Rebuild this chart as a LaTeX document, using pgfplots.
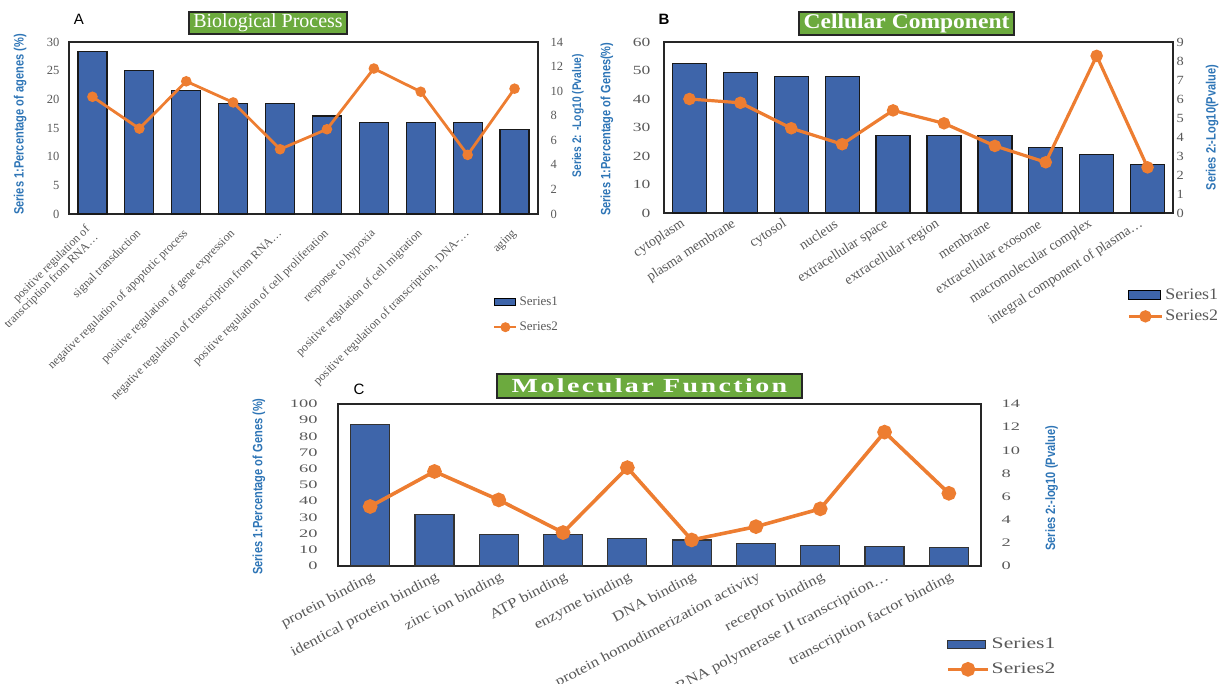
\documentclass[border=0pt]{standalone}
\usepackage{pgfplots}
\pgfplotsset{compat=1.18}
\usepackage{fontspec}
\setmainfont{Liberation Serif}
\setsansfont{Liberation Sans}
\newfontfamily\narrowfont{Liberation Sans}[FakeStretch=0.82]
\newfontfamily\bnum{Liberation Serif}[FakeStretch=1.4]
\newfontfamily\brnum{Liberation Serif}[FakeStretch=1.15]
\newfontfamily\bwide{Liberation Serif}[FakeStretch=1.12]
\newfontfamily\cnum{Liberation Serif}[FakeStretch=1.6]
\newfontfamily\cwide{Liberation Serif}[FakeStretch=1.2]
\newfontfamily\cleg{Liberation Serif}[FakeStretch=1.35]
\newfontfamily\ctitle{Liberation Serif}[FakeStretch=1.4, LetterSpace=12]

\definecolor{barblue}{RGB}{62,101,170}
\definecolor{lineorange}{RGB}{237,125,49}
\definecolor{labelblue}{RGB}{46,117,182}
\definecolor{tickgray}{RGB}{89,89,89}
\definecolor{titlegreen}{RGB}{108,170,62}

\pgfplotsset{
  panel/.style={
    scale only axis, anchor=south west, clip=false,
    xmin=-0.5, xmax=9.5,
    major tick length=0pt,
    axis line style={black!85, line width=1.3pt},
    /pgf/number format/assume math mode=true,
    yticklabel style={text=tickgray},
    ylabel style={text=labelblue, font=\narrowfont\bfseries\fontsize{13.5}{14}\selectfont, anchor=center},
  },
  rightpanel/.style={panel, axis y line*=right, axis x line=none},
  legendbase/.style={legend style={anchor=north west, draw=none, fill=none, text=tickgray, inner sep=0pt, cells={anchor=west}}},
}

\begin{document}
\begin{tikzpicture}
\path[use as bounding box] (0,0) rectangle (1222pt,684pt);

% ---------------- A : Biological Process
\begin{axis}[panel, at={(69pt,470pt)}, width=469pt, height=172pt,
  ymin=0, ymax=30, ytick={0,5,...,30},
  yticklabel style={font=\fontsize{12.5}{13}\selectfont}, yticklabel shift=6pt,
  xtick={0,...,9},
  xticklabels={{positive regulation of\\transcription from RNA…}, signal transduction, negative regulation of apoptotic process, positive regulation of gene expression, negative regulation of transcription from RNA…, positive regulation of cell proliferation, response to hypoxia, positive regulation of cell migration, {positive regulation of transcription, DNA-…}, aging},
  xticklabel style={font=\fontsize{12}{12}\selectfont, text=tickgray, rotate=45, anchor=east, inner sep=0pt, align=right},
  xticklabel shift=18pt,
  ylabel={Series 1:Percentage of agenes (\%)},
  ylabel style={at={(axis description cs:-0.104,0.52)}},
]
\addplot[ybar, bar width=29pt, fill=barblue, draw=black!90, line width=1.2pt] coordinates {
(0,28.4) (1,25.0) (2,21.6) (3,19.3) (4,19.3) (5,17.1) (6,15.9) (7,15.9) (8,15.9) (9,14.8)};
\end{axis}
\begin{axis}[rightpanel, legendbase, at={(69pt,470pt)}, width=469pt, height=172pt,
  ymin=0, ymax=14, ytick={0,2,...,14},
  yticklabel style={font=\fontsize{12.5}{13}\selectfont}, yticklabel shift=9pt,
  ylabel={Series 2: -Log10 (Pvalue)},
  ylabel style={at={(axis description cs:1.085,0.57)}, font=\narrowfont\bfseries\fontsize{12.5}{13}\selectfont},
  legend style={at={(axis description cs:0.904,-0.47)}, font=\fontsize{13}{13}\selectfont, row sep=11pt},
]
\addlegendimage{legend image code/.code={\draw[fill=barblue, draw=black, line width=1pt] (0pt,-3.5pt) rectangle (21pt,3.5pt);}}
\addlegendentry{Series1}
\addplot[lineorange, line width=2.8pt, mark=*, mark size=3.8pt, mark options={solid, fill=lineorange},
  legend image code/.code={\draw[lineorange, line width=2.5pt] (0pt,0pt) -- (22pt,0pt); \fill[lineorange] (11pt,0pt) circle (3.5pt);}]
coordinates {(0,9.54) (1,6.95) (2,10.8) (3,9.08) (4,5.27) (5,6.9) (6,11.84) (7,9.95) (8,4.81) (9,10.2)};
\addlegendentry{Series2}
\end{axis}

% ---------------- B : Cellular Component
\begin{axis}[panel, at={(664pt,471pt)}, width=509pt, height=171pt,
  ymin=0, ymax=60, ytick={0,10,...,60},
  yticklabel style={font=\bnum\fontsize{12.5}{13}\selectfont}, yticklabel shift=10pt,
  xtick={0,...,9},
  xticklabels={cytoplasm, plasma membrane, cytosol, nucleus, extracellular space, extracellular region, membrane, extracellular exosome, macromolecular complex, integral component of plasma…},
  xticklabel style={font=\fontsize{14}{15}\selectfont, text=tickgray, rotate=33, anchor=east, inner sep=0pt, xshift=-7pt},
  xticklabel shift=6pt,
  ylabel={Series 1:Percentage of Genes(\%)},
  ylabel style={at={(axis description cs:-0.112,0.49)}},
]
\addplot[ybar, bar width=34pt, fill=barblue, draw=black!90, line width=1.3pt] coordinates {
(0,52.4) (1,49.2) (2,47.8) (3,47.8) (4,27.3) (5,27.3) (6,27.3) (7,23.0) (8,20.5) (9,17.0)};
\end{axis}
\begin{axis}[rightpanel, legendbase, at={(664pt,471pt)}, width=509pt, height=171pt,
  ymin=0, ymax=9, ytick={0,1,...,9},
  yticklabel style={font=\brnum\fontsize{12.5}{13}\selectfont}, yticklabel shift=0pt,
  ylabel={Series 2:-Log10(Pvalue)},
  ylabel style={at={(axis description cs:1.077,0.5)}},
  legend style={at={(axis description cs:0.910,-0.433)}, font=\bwide\fontsize{16}{16}\selectfont, row sep=5pt},
]
\addlegendimage{legend image code/.code={\draw[fill=barblue, draw=black, line width=1.1pt] (0pt,-4.5pt) rectangle (32pt,4.5pt);}}
\addlegendentry{Series1}
\addplot[lineorange, line width=3.2pt, mark=*, mark size=4.6pt, mark options={solid, fill=lineorange},
  legend image code/.code={\draw[lineorange, line width=3pt] (0pt,0pt) -- (33pt,0pt); \fill[lineorange] (16.5pt,0pt) circle (4.5pt);}]
coordinates {(0,6.0) (1,5.8) (2,4.46) (3,3.62) (4,5.4) (5,4.72) (6,3.53) (7,2.67) (8,8.27) (9,2.4)};
\addlegendentry{Series2}
\end{axis}

% ---------------- C : Molecular Function
\begin{axis}[panel, at={(338pt,118pt)}, width=643pt, height=162pt,
  ymin=0, ymax=100, ytick={0,10,...,100},
  yticklabel style={font=\cnum\fontsize{11.5}{12}\selectfont}, yticklabel shift=17pt,
  xtick={0,...,9},
  xticklabels={protein binding, identical protein binding, zinc ion binding, ATP binding, enzyme binding, DNA binding, protein homodimerization activity, receptor binding, RNA polymerase II transcription…, transcription factor binding},
  xticklabel style={font=\cwide\fontsize{14}{15}\selectfont, text=tickgray, rotate=28, anchor=east, inner sep=0pt, xshift=4pt},
  xticklabel shift=12pt,
  ylabel={Series 1:Percentage of Genes (\%)},
  ylabel style={at={(axis description cs:-0.123,0.49)}},
]
\addplot[ybar, bar width=39pt, fill=barblue, draw=black!80, line width=1.2pt] coordinates {
(0,87.2) (1,32.0) (2,19.4) (3,19.4) (4,16.9) (5,16.1) (6,13.8) (7,12.8) (8,11.9) (9,11.6)};
\end{axis}
\begin{axis}[rightpanel, legendbase, at={(338pt,118pt)}, width=643pt, height=162pt,
  ymin=0, ymax=14, ytick={0,2,...,14},
  yticklabel style={font=\cnum\fontsize{11.5}{12}\selectfont, anchor=west}, yticklabel shift=17pt,
  ylabel={Series 2:-log10 (Pvalue)},
  ylabel style={at={(axis description cs:1.11,0.48)}},
  legend style={at={(axis description cs:0.9456,-0.432)}, font=\cleg\fontsize{16}{16}\selectfont, row sep=9pt},
]
\addlegendimage{legend image code/.code={\draw[fill=barblue, draw=black!80, line width=1pt] (0pt,-4pt) rectangle (38pt,4pt);}}
\addlegendentry{Series1}
\addplot[lineorange, line width=3.6pt, mark=*, mark size=5.5pt, mark options={solid, fill=lineorange},
  legend image code/.code={\draw[lineorange, line width=3.5pt] (0pt,0pt) -- (40pt,0pt); \fill[lineorange] (20pt,0pt) circle (5.5pt);}]
coordinates {(0,5.14) (1,8.17) (2,5.71) (3,2.89) (4,8.5) (5,2.25) (6,3.4) (7,4.94) (8,11.57) (9,6.28)};
\addlegendentry{Series2}
\end{axis}

% ---------------- titles and panel letters
\node[fill=titlegreen, draw=black!85, line width=1.2pt, text=white, font=\fontsize{20}{20}\selectfont,
  minimum width=158pt, minimum height=22pt, inner sep=0pt] at (268pt,661pt) {Biological Process};
\node[fill=titlegreen, draw=black!85, line width=1.2pt, text=white, font=\bwide\bfseries\fontsize{21}{21}\selectfont,
  minimum width=215pt, minimum height=23pt, inner sep=0pt] at (906.5pt,660.5pt) {Cellular Component};
\node[fill=titlegreen, draw=black!85, line width=1.2pt, text=white, font=\ctitle\bfseries\fontsize{20}{20}\selectfont,
  minimum width=305pt, minimum height=24pt, inner sep=0pt] at (649.5pt,298pt) {Molecular Function};
\node[font=\sffamily\fontsize{15}{15}\selectfont] at (79pt,665pt) {A};
\node[font=\sffamily\bfseries\fontsize{15}{15}\selectfont] at (664pt,665pt) {B};
\node[font=\sffamily\fontsize{15}{15}\selectfont] at (359pt,295pt) {C};
\end{tikzpicture}
\end{document}
